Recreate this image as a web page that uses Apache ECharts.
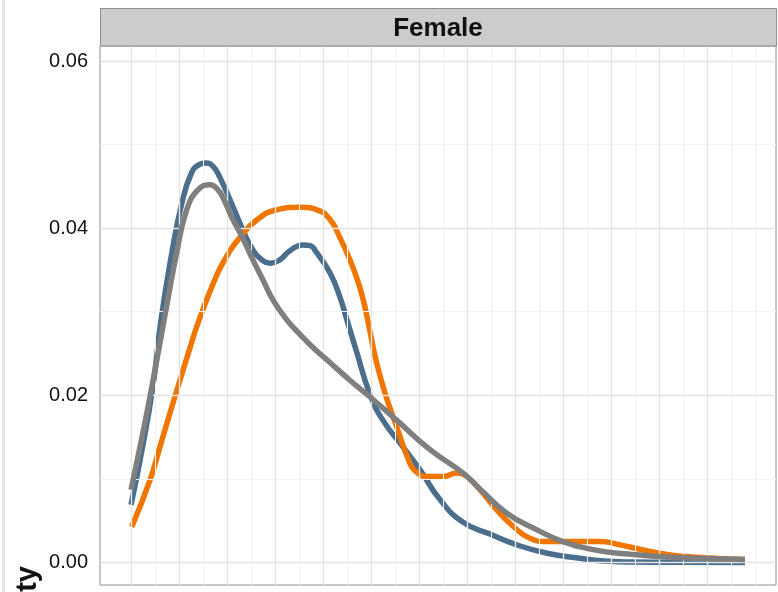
<!DOCTYPE html>
<html>
<head>
<meta charset="utf-8">
<script src="https://cdn.jsdelivr.net/npm/echarts@6/dist/echarts.min.js"></script>
<style>
html,body{margin:0;padding:0;background:#fff;}
#chart{width:778px;height:592px;}
</style>
</head>
<body>
<div id="chart"></div>
<script>
// ---- data (x = age-like units, y = density) ----
const facetTitle = 'Female';
const yTitle = 'density';
const xMajorBreaks = [0,10,20,30,40,50,60,70,80,90,100,110,120];
const xMinorBreaks = [5,15,25,35,45,55,65,75,85,95,105,115,125,130];
const yMajorBreaks = [0,0.02,0.04,0.06];
const yMinorBreaks = [0.01,0.03,0.05];
const yTickLabels = ['0.00','0.02','0.04','0.06'];

// density values in thousandths (×0.001)
const blueCurve = [[0,6.9],[2.3,13.5],[4.6,21.2],[6.25,29.0],[8.5,37.0],[10.6,43.0],[12.6,46.6],[14.2,47.6],[15.6,47.8],[17.1,47.4],[18.5,46.1],[21.3,42.5],[23.3,39.8],[25.4,37.4],[27.5,36.1],[29.0,35.8],[31.0,36.2],[33.1,37.3],[35.8,38.0],[37.3,37.9],[38.75,37.0],[41.5,34.6],[43.5,31.8],[45.0,29.0],[46.9,25.4],[49.8,20.1],[52.5,17.0],[56.7,13.8],[60.2,11.1],[64.4,7.5],[69.2,4.8],[74.8,3.4],[80.4,2.1],[86.7,1.1],[93.5,0.5],[97.7,0.2],[104.6,0.06],[114.4,0.02],[127.9,0.01]];
const orangeCurve = [[0.15,4.25],[3.96,9.87],[6.04,13.86],[8.13,17.9],[10.2,21.8],[12.3,25.7],[13.75,28.3],[16.5,32.5],[19.2,35.9],[22.7,38.9],[26.25,41.0],[30.4,42.2],[35.2,42.5],[38.75,42.2],[41.5,41.0],[43.5,38.9],[45.6,36.2],[47.3,33.6],[48.6,30.9],[49.8,27.6],[51.0,24.3],[52.9,20.3],[55.35,16.25],[57.8,12.3],[59.2,10.95],[61.6,10.3],[65.1,10.3],[67.85,10.7],[69.9,10.3],[72.7,8.7],[76.2,6.3],[79.65,4.3],[83.1,2.9],[86.7,2.5],[91.5,2.5],[97.7,2.5],[101.9,2.1],[106.7,1.5],[112.3,0.9],[118.5,0.6],[127.9,0.36]];
const grayCurve = [[0,8.7],[2.3,15.0],[4.6,21.8],[7.4,30.6],[9.5,37.0],[11.6,42.2],[14.0,44.6],[16.5,45.2],[18.1,44.6],[19.2,43.6],[21.25,41.0],[23.3,38.8],[25.4,36.2],[27.5,33.8],[29.6,31.4],[32.5,29.0],[35.2,27.3],[38.3,25.5],[41.5,23.9],[45.6,21.8],[49.8,19.8],[55.4,17.0],[62.3,13.5],[69.2,10.7],[72.7,8.8],[78.3,5.9],[84.6,3.9],[90.0,2.5],[97.1,1.45],[104.0,1.0],[111.7,0.65],[118.5,0.5],[127.9,0.35]];

const toDensity = arr => arr.map(p => [p[0], p[1] / 1000]);

const chart = echarts.init(document.getElementById('chart'), null, {renderer: 'canvas'});

function gridLines(vals, axis, color, width) {
  return vals.map(v => ({[axis]: v, lineStyle: {color: color, width: width, type: 'solid'}}));
}

function curve(name, data, color, z) {
  return {
    name: name, type: 'line', data: toDensity(data), smooth: 0.5,
    showSymbol: false, symbol: 'none', z: z, silent: true,
    lineStyle: {color: color, width: 5.5, cap: 'butt', join: 'round'}
  };
}

const option = {
  animation: false,
  backgroundColor: '#ffffff',
  grid: {left: 100, right: 2, top: 46, bottom: 7, show: true, borderColor: '#8f8f8f', borderWidth: 1, backgroundColor: '#ffffff', containLabel: false},
  xAxis: {
    type: 'value', min: -6.458, max: 134.375,
    axisLine: {show: false}, axisTick: {show: false}, axisLabel: {show: false}, splitLine: {show: false}
  },
  yAxis: {
    type: 'value', min: -0.002695, max: 0.061795,
    axisLine: {show: false},
    axisTick: {show: true, customValues: yMajorBreaks, length: 7, lineStyle: {color: '#333', width: 1}},
    axisLabel: {show: true, customValues: yMajorBreaks, margin: 12, color: '#111',
      fontFamily: '"Liberation Sans", Arial, sans-serif', fontSize: 20,
      formatter: v => yTickLabels[yMajorBreaks.findIndex(b => Math.abs(b - v) < 1e-9)] || ''},
    splitLine: {show: false}
  },
  series: [
    {
      type: 'line', data: [], z: 1, silent: true,
      markLine: {silent: true, symbol: ['none', 'none'], label: {show: false}, animation: false,
        emphasis: {disabled: true},
        data: [].concat(
          gridLines(xMinorBreaks, 'xAxis', '#f2f2f2', 1),
          gridLines(yMinorBreaks, 'yAxis', '#f2f2f2', 1),
          gridLines(xMajorBreaks, 'xAxis', '#e4e4e4', 1.4),
          gridLines(yMajorBreaks, 'yAxis', '#e4e4e4', 1.4)
        )}
    },
    curve('A', blueCurve, '#4a6e8c', 3),
    curve('B', orangeCurve, '#ef7600', 4),
    curve('C', grayCurve, '#7f7f7f', 5)
  ],
  graphic: [
    {type: 'rect', shape: {x: 2, y: 0, width: 3, height: 592}, style: {fill: '#e6e6e6'}, silent: true},
    {type: 'rect', shape: {x: 100.5, y: 8.5, width: 676, height: 37.5}, style: {fill: '#cccccc', stroke: '#8f8f8f', lineWidth: 1}, silent: true, z: 10},
    {type: 'text', x: 438, y: 29, silent: true, z: 11,
      style: {text: facetTitle, font: 'bold 26px "Liberation Sans", Arial, sans-serif', fill: '#111', align: 'center', verticalAlign: 'middle'}},
    {type: 'text', x: 28, y: 566, rotation: Math.PI / 2, silent: true, z: 11,
      style: {text: yTitle, font: 'bold 29px "Liberation Sans", Arial, sans-serif', fill: '#111', align: 'right', verticalAlign: 'middle'}}
  ]
};
chart.setOption(option);
</script>
</body>
</html>
